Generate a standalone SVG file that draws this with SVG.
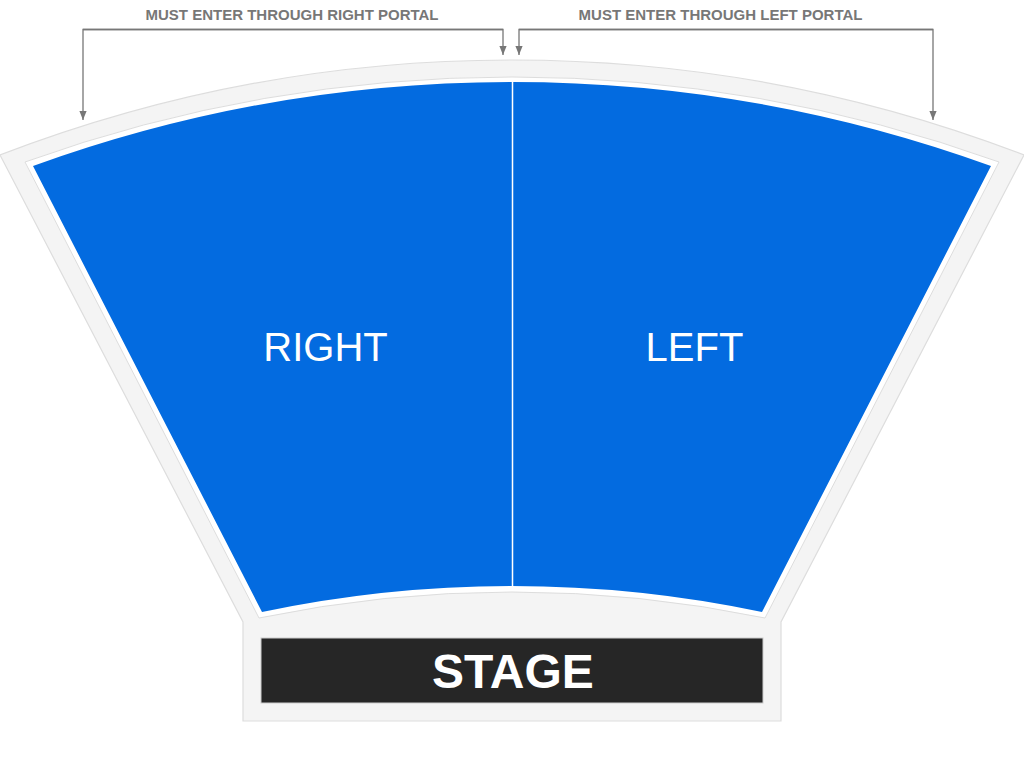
<svg xmlns="http://www.w3.org/2000/svg" width="1024" height="768" viewBox="0 0 1024 768">
  <defs>
    <style>
      .lbl { font-family: "Liberation Sans", Arial, sans-serif; font-weight: bold; font-size: 15px; fill: #777777; text-anchor: middle; }
      .sec { font-family: "Liberation Sans", Arial, sans-serif; font-size: 40px; fill: #ffffff; text-anchor: middle; }
      .stage { font-family: "Liberation Sans", Arial, sans-serif; font-weight: bold; font-size: 48px; fill: #ffffff; text-anchor: middle; }
      .conn { fill: none; stroke: #777777; stroke-width: 1.3; }
    </style>
    <marker id="arr" viewBox="0 0 10 8" refX="10" refY="4" markerWidth="9" markerHeight="7.2" markerUnits="userSpaceOnUse" orient="auto">
      <path d="M0,0 L10,4 L0,8 Z" fill="#777777"/>
    </marker>
  </defs>
  <rect width="1024" height="768" fill="#ffffff"/>

  <g id="venue">
    <path d="M0,155 A1427,1427 0 0 1 1024,155 L781,622 L781,721 L243,721 L243,622 Z" fill="#f4f4f4" stroke="#dddddd" stroke-width="1.2"/>
    <path d="M25,162 A1437.6,1437.6 0 0 1 999,162 L765,618 A1244,1244 0 0 0 259,618 Z" fill="#ffffff" stroke="#dddddd" stroke-width="1"/>
  </g>

  <g id="section-right">
    <path d="M33,166 A1407.7,1407.7 0 0 1 512,82 L512,586 A1215,1215 0 0 0 262,612 Z" fill="#036be0"/>
    <text class="sec" x="325.5" y="361">RIGHT</text>
  </g>

  <g id="section-left">
    <path d="M512,82 A1407.7,1407.7 0 0 1 991,166 L762,612 A1215,1215 0 0 0 512,586 Z" fill="#036be0"/>
    <text class="sec" x="694.5" y="361">LEFT</text>
  </g>
  <line x1="512.5" y1="82" x2="512.5" y2="586" stroke="#ffffff" stroke-width="1.5"/>

  <g id="stage">
    <rect x="261" y="638" width="502" height="65" fill="#262626" stroke="#cccccc" stroke-width="1"/>
    <text class="stage" x="513" y="688">STAGE</text>
  </g>

  <g id="label-right-portal">
    <text class="lbl" x="292" y="20">MUST ENTER THROUGH RIGHT PORTAL</text>
  </g>
  <g id="label-left-portal">
    <text class="lbl" x="720.5" y="20">MUST ENTER THROUGH LEFT PORTAL</text>
  </g>

  <g id="connectors">
    <path class="conn" d="M503,29.5 L83,29.5 L83,120" marker-end="url(#arr)"/>
    <path class="conn" d="M83,29.5 L503,29.5 L503,55" marker-end="url(#arr)"/>
    <path class="conn" d="M933,29.5 L519,29.5 L519,55" marker-end="url(#arr)"/>
    <path class="conn" d="M519,29.5 L933,29.5 L933,120" marker-end="url(#arr)"/>
  </g>
</svg>
